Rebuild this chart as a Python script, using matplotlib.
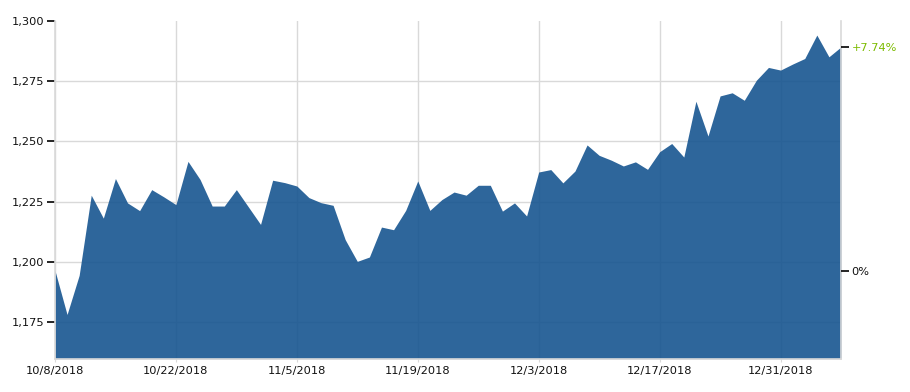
import matplotlib
matplotlib.use('Agg')

import matplotlib.pyplot as plt
import pandas as pd

# Datos: cierre diario (días hábiles), 10/8/2018 - 1/7/2019
fechas = pd.bdate_range('2018-10-08', '2019-01-07')
valores = [
    1196.5, 1178.3, 1194.5, 1227.7, 1218.2, 1234.6, 1224.5, 1221.3, 1230.0, 1227.0,
    1223.8, 1241.7, 1234.2, 1223.2, 1223.2, 1230.0, 1222.8, 1215.6, 1233.9, 1232.9,
    1231.5, 1226.7, 1224.6, 1223.5, 1209.3, 1200.3, 1202.1, 1214.5, 1213.4, 1221.4,
    1233.6, 1221.4, 1225.9, 1229.0, 1227.7, 1231.8, 1231.8, 1221.1, 1224.5, 1219.1,
    1237.3, 1238.3, 1232.8, 1237.7, 1248.5, 1244.2, 1242.2, 1239.8, 1241.5, 1238.4,
    1245.7, 1249.1, 1243.5, 1266.6, 1252.2, 1268.8, 1270.1, 1267.0, 1275.3, 1280.6,
    1279.5, 1282.0, 1284.3, 1294.0, 1285.0, 1289.1,
]
y_ticks = [1175, 1200, 1225, 1250, 1275, 1300]
y_min, y_max = 1160, 1300

COLOR_AREA = '#175590'
COLOR_GRID = '#d9d9d9'
COLOR_UP = '#7cbb00'

plt.rcParams['font.family'] = 'DejaVu Sans'
plt.rcParams['font.size'] = 8.2

fig = plt.figure(figsize=(9.1, 3.92), dpi=100)
ax = fig.add_axes([0.0604, 0.085, 0.8638, 0.8625])

x = list(range(len(valores)))
ax.set_xlim(0, len(valores) - 1)
ax.set_ylim(y_min, y_max)

ax.fill_between(x, y_min, valores, color=COLOR_AREA, alpha=0.9, linewidth=0, zorder=2)

# Eje Y izquierdo
ax.set_yticks(y_ticks)
ax.set_yticklabels([f'{v:,}' for v in y_ticks])
ax.tick_params(axis='y', length=6, width=1.2, color='black', pad=1.5, labelcolor='#111111')

# Eje X: una etiqueta cada 10 días hábiles
x_ticks = x[::10]
ax.set_xticks(x_ticks)
ax.set_xticklabels([f'{fechas[i].month}/{fechas[i].day}/{fechas[i].year}' for i in x_ticks])
ax.tick_params(axis='x', length=2.5, color=COLOR_GRID, pad=3, labelcolor='#111111')

ax.grid(True, color=COLOR_GRID, linewidth=1, zorder=1)
ax.set_axisbelow(True)
ax.yaxis.get_gridlines()[-1].set_visible(False)

for lado in ['left', 'bottom', 'right']:
    ax.spines[lado].set_color(COLOR_GRID)
    ax.spines[lado].set_linewidth(1.2)
ax.spines['top'].set_visible(False)

# Eje derecho: variación porcentual
cambio = (valores[-1] / valores[0] - 1) * 100
ax2 = ax.twinx()
ax2.set_ylim(y_min, y_max)
ax2.set_yticks([valores[0], valores[-1]])
ax2.set_yticklabels(['0%', f'+{cambio:.2f}%'])
ax2.tick_params(axis='y', length=5.5, width=1.2, color='black', pad=2, labelcolor='#111111')
ax2.get_yticklabels()[1].set_color(COLOR_UP)
for lado in ax2.spines:
    ax2.spines[lado].set_visible(False)

plt.savefig('out.png', dpi=100)
plt.close(fig)
